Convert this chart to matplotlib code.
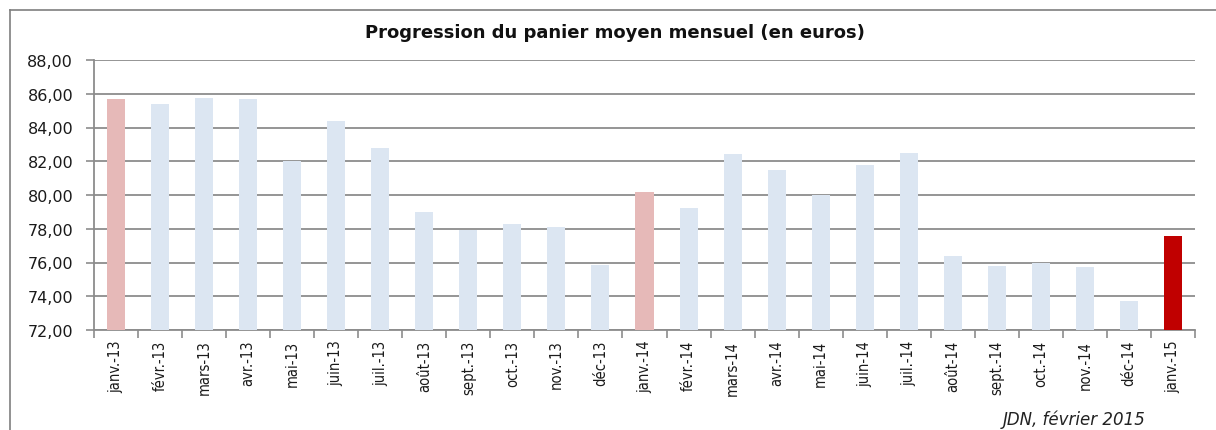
import matplotlib
matplotlib.use("Agg")
import matplotlib.pyplot as plt
from matplotlib.lines import Line2D
import numpy as np

months = ["janv.-13", "févr.-13", "mars-13", "avr.-13", "mai-13", "juin-13", "juil.-13",
          "août-13", "sept.-13", "oct.-13", "nov.-13", "déc-13",
          "janv.-14", "févr.-14", "mars-14", "avr.-14", "mai-14", "juin-14", "juil.-14",
          "août-14", "sept.-14", "oct.-14", "nov.-14", "déc-14", "janv.-15"]
values = [85.70, 85.40, 85.75, 85.70, 82.00, 84.40, 82.80,
          79.00, 77.90, 78.30, 78.10, 75.85,
          80.20, 79.20, 82.40, 81.50, 80.00, 81.80, 82.50,
          76.40, 75.80, 76.00, 75.75, 73.70, 77.60]
yticks = [72, 74, 76, 78, 80, 82, 84, 86, 88]

LIGHT = "#dce6f2"
PINK = "#e6b9b8"
RED = "#c00000"
colors = [LIGHT] * len(months)
colors[0] = PINK
colors[12] = PINK
colors[24] = RED

fig = plt.figure(figsize=(12.16, 4.31), dpi=100)
ax = fig.add_axes([94/1216, 1-331/431, (1195-94)/1216, (331-61)/431])

x = np.arange(len(months))
ax.bar(x, [v - 72 for v in values], bottom=72, width=0.41, color=colors, zorder=3)

ax.set_xlim(-0.5, len(months) - 0.5)
ax.set_ylim(72, 88)
ax.set_yticks(yticks)
ax.set_yticklabels([f"{t:.2f}".replace(".", ",") for t in yticks],
                   fontsize=11.5, color="#1a1a1a", family="DejaVu Sans")
ax.yaxis.grid(True, color="#8c8c8c", linewidth=1.3, zorder=0)
ax.tick_params(axis="y", length=6, width=1.2, color="#8c8c8c", pad=9)

ax.set_xticks(np.arange(-0.5, len(months), 1.0))
ax.set_xticklabels([])
ax.set_xticks(x, minor=True)
ax.set_xticklabels(months, minor=True, rotation=90, fontsize=10.5,
                   family="DejaVu Sans", fontstretch="condensed", va="top", ha="center",
                   color="#1a1a1a")
ax.tick_params(axis="x", which="major", length=6, width=1.2, color="#8c8c8c", direction="out")
ax.tick_params(axis="x", which="minor", length=0, pad=7)

for s in ["top", "right"]:
    ax.spines[s].set_visible(False)
for s in ["left", "bottom"]:
    ax.spines[s].set_color("#8c8c8c")
    ax.spines[s].set_linewidth(1.3)

fig.text(615/1216, 1-33/431, "Progression du panier moyen mensuel (en euros)",
         ha="center", va="center", fontsize=13, fontweight="bold", color="#111111")
fig.text(1074/1216, 1-420/431, "JDN, février 2015", ha="center", va="center",
         fontsize=12, style="italic", color="#222222")

fig.add_artist(Line2D([10/1216, 10/1216], [0, 1-11/431], transform=fig.transFigure,
                      color="#7f7f7f", linewidth=1.2))
fig.add_artist(Line2D([10/1216, 1], [1-11/431, 1-11/431], transform=fig.transFigure,
                      color="#7f7f7f", linewidth=1.2))

fig.savefig("out.png", dpi=100)
